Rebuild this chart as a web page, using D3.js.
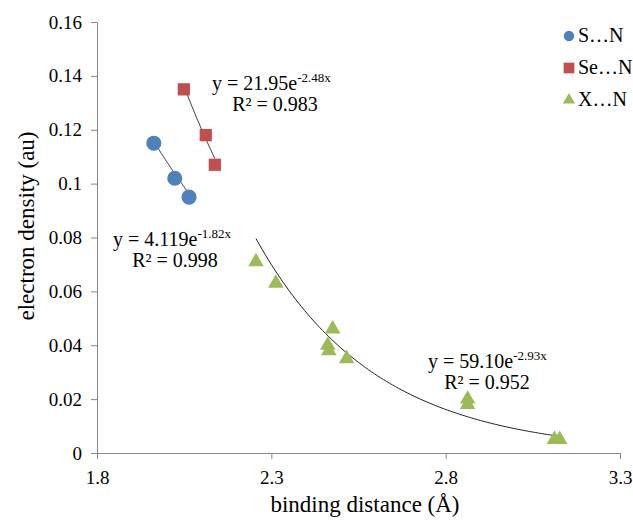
<!DOCTYPE html>
<html><head><meta charset="utf-8">
<script src="https://cdn.jsdelivr.net/npm/d3@7"></script>
<style>body{margin:0;background:#fff}</style>
</head><body><svg id="c" width="633" height="520"></svg>
<script>
// data
const seriesNames = ["S…N", "Se…N", "X…N"];
const sX = [1.963, 2.023, 2.064];
const sY = [0.115, 0.102, 0.095];
const seX = [2.049, 2.112, 2.138];
const seY = [0.135, 0.118, 0.107];
const xX = [2.256, 2.313, 2.476, 2.462, 2.465, 2.516, 2.863, 2.863, 3.112, 3.127];
const xY = [0.071, 0.063, 0.046, 0.040, 0.038, 0.035, 0.020, 0.018, 0.005, 0.005];
// fitted trendline coefficients y = a*exp(b*x)
const fitA = ["4.119", "21.95", "59.10"];
const fitB = ["-1.82", "-2.48", "-2.93"];
const fitR2 = ["0.998", "0.983", "0.952"];
const xTicks = [1.8, 2.3, 2.8, 3.3];
const yTicks = [0, 0.02, 0.04, 0.06, 0.08, 0.1, 0.12, 0.14, 0.16];
const colors = ["#4F81BD", "#C0504D", "#9BBB59"];

const FONT = '"Liberation Serif","Tinos","Times New Roman","DejaVu Serif",serif';
const svg = d3.select("#c");
const x = d3.scaleLinear().domain([1.8, 3.3]).range([97, 620]);
const y = d3.scaleLinear().domain([0, 0.16]).range([453, 22]);

// axes
const xa = svg.append("g").attr("transform", "translate(0,453)")
  .call(d3.axisBottom(x).tickValues(xTicks).tickFormat(d3.format(".1f")).tickSize(6).tickSizeOuter(0));
const ya = svg.append("g").attr("transform", "translate(97,0)")
  .call(d3.axisLeft(y).tickValues(yTicks).tickFormat(d => d === 0 ? "0" : String(+d.toFixed(2))).tickSize(6).tickSizeOuter(0));
[xa, ya].forEach(g => {
  g.attr("font-family", null).attr("font-size", null);
  g.selectAll("path,line").attr("stroke", "#868686");
  g.selectAll("text").attr("font-size", 19).attr("font-family", FONT).attr("fill", "#000");
});
xa.selectAll("text").attr("dy", 0).attr("y", 31);
ya.selectAll("text").attr("x", -15);

function txt(sel) { return sel.append("text").attr("font-family", FONT).attr("fill", "#000"); }

// axis titles
txt(svg).attr("x", 365).attr("y", 512).attr("text-anchor", "middle").attr("font-size", 23).text("binding distance (Å)");
txt(svg).attr("transform", "translate(34,226) rotate(-90)").attr("text-anchor", "middle").attr("font-size", 23).text("electron density (au)");

// trendlines
const ranges = [[sX, sY], [seX, seY], [xX, xY]];
ranges.forEach((r, i) => {
  const xs = r[0];
  const lo = d3.min(xs), hi = d3.max(xs);
  const a = +fitA[i], b = +fitB[i];
  const pts = d3.range(0, 101).map(k => lo + (hi - lo) * k / 100).map(v => [v, a * Math.exp(b * v)]);
  svg.append("path").attr("d", d3.line().x(d => x(d[0])).y(d => y(d[1]))(pts))
    .attr("fill", "none").attr("stroke", "#222").attr("stroke-width", 1);
});

// markers
const sym = [d3.symbolCircle, d3.symbolSquare, d3.symbolTriangle];
const sz = [180, 150, 105];
ranges.forEach((r, i) => {
  svg.append("g").selectAll("path").data(r[0].map((v, k) => [v, r[1][k]])).join("path")
    .attr("transform", d => `translate(${x(d[0])},${y(d[1])})`)
    .attr("d", d3.symbol().type(sym[i]).size(sz[i]))
    .attr("fill", colors[i]);
});

// equations
const eqPos = [[113, 246, 175, 267], [212, 90, 275, 111], [428, 368, 487, 389]];
eqPos.forEach((p, i) => {
  const t = txt(svg).attr("x", p[0]).attr("y", p[1]).attr("font-size", 20);
  t.append("tspan").text("y = " + fitA[i] + "e");
  t.append("tspan").attr("dy", -8).attr("font-size", 13).text(fitB[i] + "x");
  txt(svg).attr("x", p[2]).attr("y", p[3]).attr("text-anchor", "middle").attr("font-size", 20).text("R² = " + fitR2[i]);
});

// legend
const legY = [36, 68, 100];
const legSz = [85, 115, 65];
seriesNames.forEach((n, i) => {
  svg.append("path").attr("transform", `translate(569,${legY[i]})`)
    .attr("d", d3.symbol().type(sym[i]).size(legSz[i])).attr("fill", colors[i]);
  txt(svg).attr("x", 578).attr("y", legY[i] + 6).attr("font-size", 20).text(n);
});
</script></body></html>
